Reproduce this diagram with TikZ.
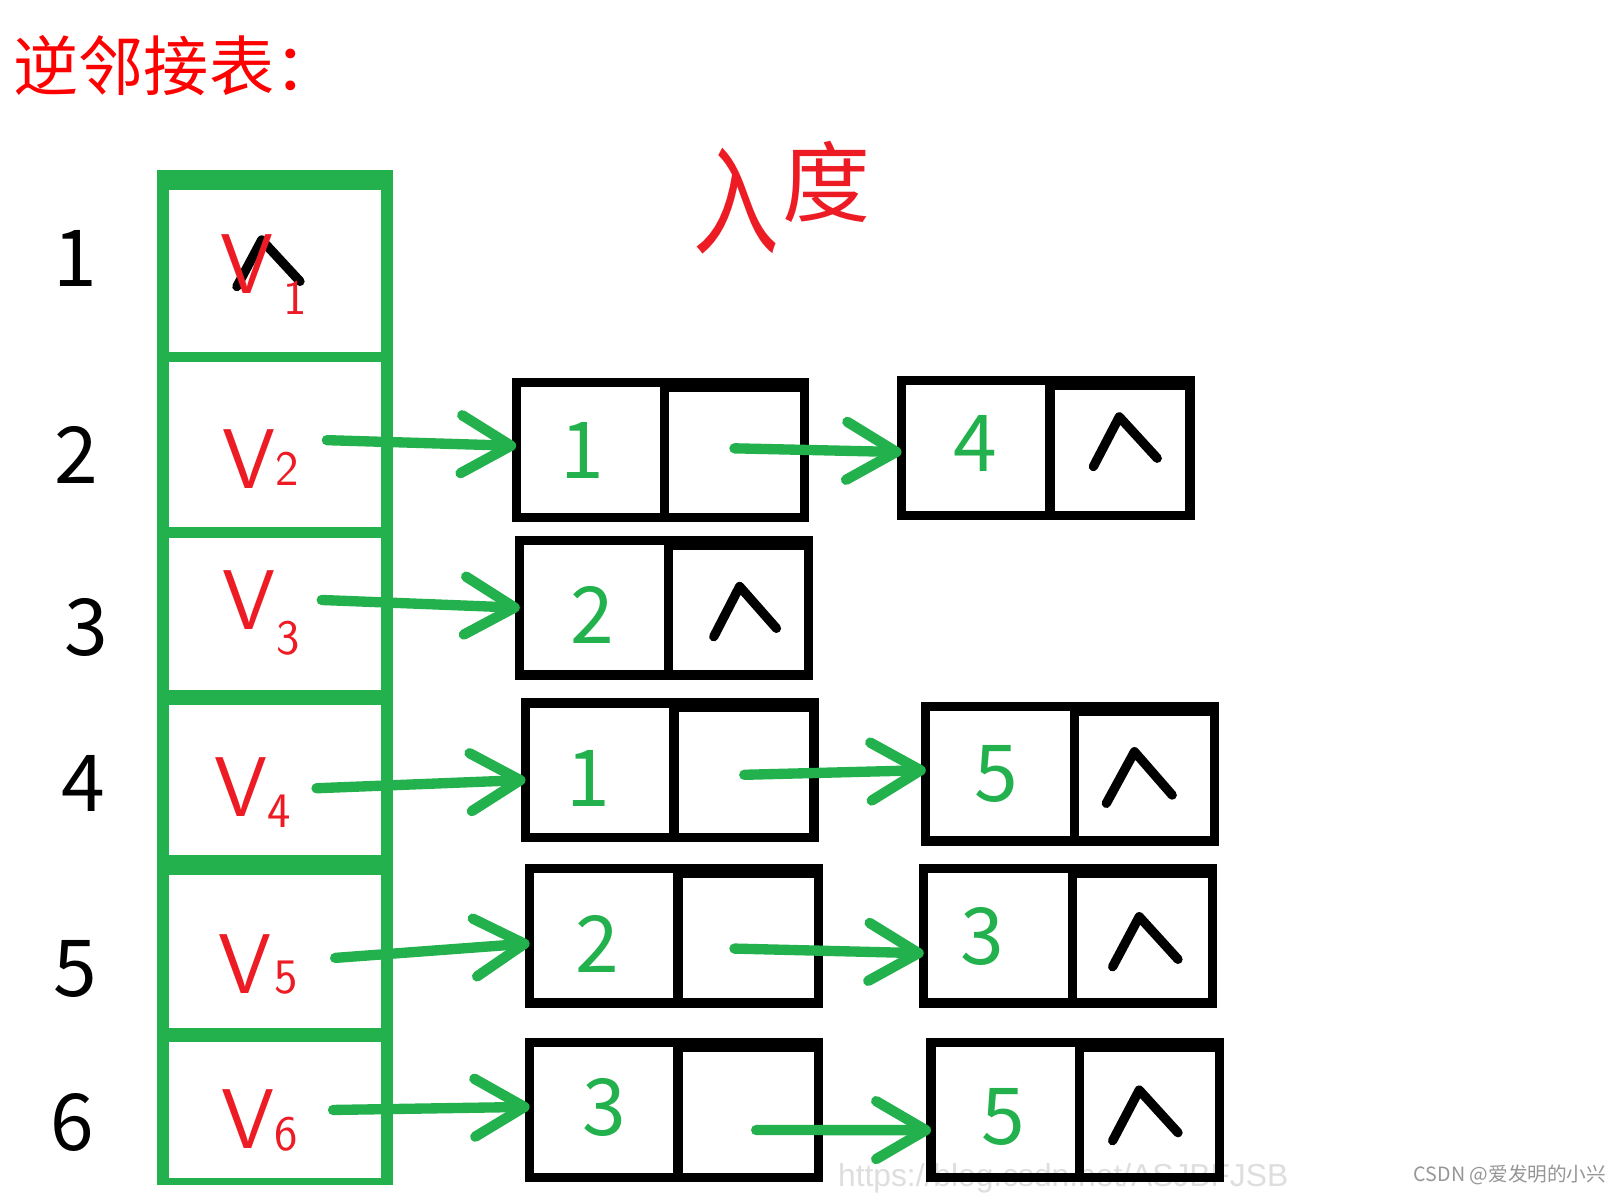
\documentclass[tikz,border=0pt]{standalone}
\usepackage{fontspec}
\setmainfont{Noto Sans CJK SC}
\newfontfamily\urlfont{Liberation Sans}
\usetikzlibrary{arrows.meta}
\definecolor{pgreen}{RGB}{34,177,76}
\definecolor{pred}{RGB}{237,28,36}
\definecolor{tred}{RGB}{255,0,0}
\definecolor{wmgray}{RGB}{150,150,150}
\definecolor{urlgray}{RGB}{222,222,222}
\newcommand\myVsub[3]{V\kern#1\raisebox{#2}{\fontsize{48}{48}\selectfont #3}}
\begin{document}
\begin{tikzpicture}[x=1pt,y=-1pt,
  greenbar/.style={fill=pgreen},
  lbox/.style={draw=black, line width=9pt, minimum width=279pt, minimum height=130pt, inner sep=0pt, outer sep=0pt},
  rowlab/.style={font=\fontsize{76}{80}\selectfont, text=black, inner sep=0pt},
  num/.style={font=\fontsize{76}{80}\selectfont, text=pgreen, inner sep=0pt},
  vlab/.style={font=\sffamily\fontsize{82}{86}\selectfont, text=pred, inner sep=0pt, anchor=base west},
  nullmark/.style={draw=black, line width=9pt, line cap=round, line join=round},
  link/.style={draw=pgreen, line width=10pt, line cap=round, -{Straight Barb[length=48pt,width=56pt,round]}}
]
\useasboundingbox (0,0) rectangle (1568,1154);
\fill[white] (0,0) rectangle (1568,1154);

% faint watermark url
\node[font=\urlfont\fontsize{30.7}{32}\selectfont, text=urlgray, anchor=base west, inner sep=0pt] (url) at (810,1147) {https://blog.csdn.net/ASJBFJSB};

% title
\node[font=\fontsize{63}{68}\selectfont, text=tred, anchor=west, inner sep=0pt] (title) at (13,63) {逆邻接表：};

% handwritten 入度
\node[font=\fontsize{115}{115}\selectfont, text=pred, inner sep=0pt] (ru) at (712,194) {\scalebox{0.72}[1]{入}};
\node[font=\fontsize{85}{85}\selectfont, text=pred, inner sep=0pt] (du) at (799,176) {度};

% vertex column
\fill[greenbar] (152,164) rectangle (163,1146);
\fill[greenbar] (368,164) rectangle (380,1146);
\fill[greenbar] (152,164) rectangle (380,184);
\fill[greenbar] (152,340) rectangle (380,350);
\fill[greenbar] (152,509) rectangle (380,520);
\fill[greenbar] (152,667) rectangle (380,682);
\fill[greenbar] (152,827) rectangle (380,846);
\fill[greenbar] (152,994) rectangle (380,1007);
\fill[greenbar] (152,1139) rectangle (380,1146);

% row labels
\node[rowlab] (r1) at (72.5,250) {1};
\node[rowlab] (r2) at (74,440) {2};
\node[rowlab] (r3) at (83,607) {3};
\node[rowlab] (r4) at (81,757) {4};
\node[rowlab] (r5) at (72.5,937) {5};
\node[rowlab] (r6) at (70,1085) {6};

% list nodes
\node[lbox] (A) at (638.5,435) {};
\node[lbox] (B) at (1011,433) {};
\node[lbox] (C) at (642,587.5) {};
\node[lbox] (D) at (647.5,744.5) {};
\node[lbox] (E) at (1034.5,748) {};
\node[lbox] (F) at (651.5,904.5) {};
\node[lbox] (G) at (1032.5,904.5) {};
\node[lbox] (H) at (651.5,1073) {};
\node[lbox] (I) at (1039.5,1073) {};
\foreach \b in {A,B,C,D,E,F,G,H,I}{
  \draw[line width=9pt] ([xshift=4pt]\b.north) -- ([xshift=4pt]\b.south);
  \fill ([xshift=4pt]\b.north) rectangle ([yshift=-9pt]\b.north east);
}

% data values
\node[num] (nA) at (563,435) {1};
\node[num] (nB) at (943,428.5) {4};
\node[num] (nC) at (573,594.5) {2};
\node[num] (nD) at (568.5,753) {1};
\node[num] (nE) at (963,748) {5};
\node[num] (nF) at (577.5,913) {2};
\node[num] (nG) at (950,905) {3};
\node[num] (nH) at (584,1071) {3};
\node[num] (nI) at (970,1080) {5};

% null pointers
\draw[nullmark] (229,277) -- (253,232) -- (290,272);
\draw[nullmark] (1057,451) -- (1082,403) -- (1118.7,443);
\draw[nullmark] (690,615.5) -- (715,567) -- (750.6,607.4);
\draw[nullmark] (1069.5,776.6) -- (1096.7,726.7) -- (1133.2,768.6);
\draw[nullmark] (1075.6,934.5) -- (1101.3,886.2) -- (1138.8,927.4);
\draw[nullmark] (1075.6,1102.7) -- (1101.3,1053.8) -- (1138.8,1095);

% handwritten vertex names
\node[vlab] (V1) at (212.7,283.6) {\myVsub{10pt}{-20pt}{1}};
\node[vlab] (V2) at (215,472) {\myVsub{0pt}{3pt}{2}};
\node[vlab] (V3) at (215,609) {\myVsub{1pt}{-24pt}{3}};
\node[vlab] (V4) at (207,789.5) {\myVsub{0pt}{-10pt}{4}};
\node[vlab] (V5) at (211,960) {\myVsub{3pt}{0pt}{5}};
\node[vlab] (V6) at (214,1110) {\myVsub{0pt}{-2pt}{6}};

% arrows
\coordinate (s2) at (316,425.5);
\coordinate (s3) at (311,580);
\coordinate (s4) at (306,762);
\coordinate (s5) at (324,926);
\coordinate (s6) at (322,1073);
\coordinate (pA) at (710,433.4);
\coordinate (pD) at (719.5,749);
\coordinate (pF) at (710,917);
\coordinate (pH) at (731,1092.4);
\draw[link] (s2) -- ([yshift=4pt]A.west);
\draw[link] (s3) -- (C.west);
\draw[link] (s4) -- ([yshift=-9.5pt]D.west);
\draw[link] (s5) -- ([yshift=-7.5pt]F.west);
\draw[link] (s6) -- ([yshift=3pt]H.west);
\draw[link] (pA) -- ([yshift=-4pt]B.west);
\draw[link] (pD) -- ([yshift=3.5pt]E.west);
\draw[link] (pF) -- ([yshift=-17pt]G.west);
\draw[link] (pH) -- ([yshift=-19.5pt]I.west);

% watermark
\node[font=\fontsize{19}{20}\selectfont, text=wmgray, anchor=east, inner sep=0pt] (csdn) at (1553,1136) {CSDN @爱发明的小兴};
\end{tikzpicture}
\end{document}
